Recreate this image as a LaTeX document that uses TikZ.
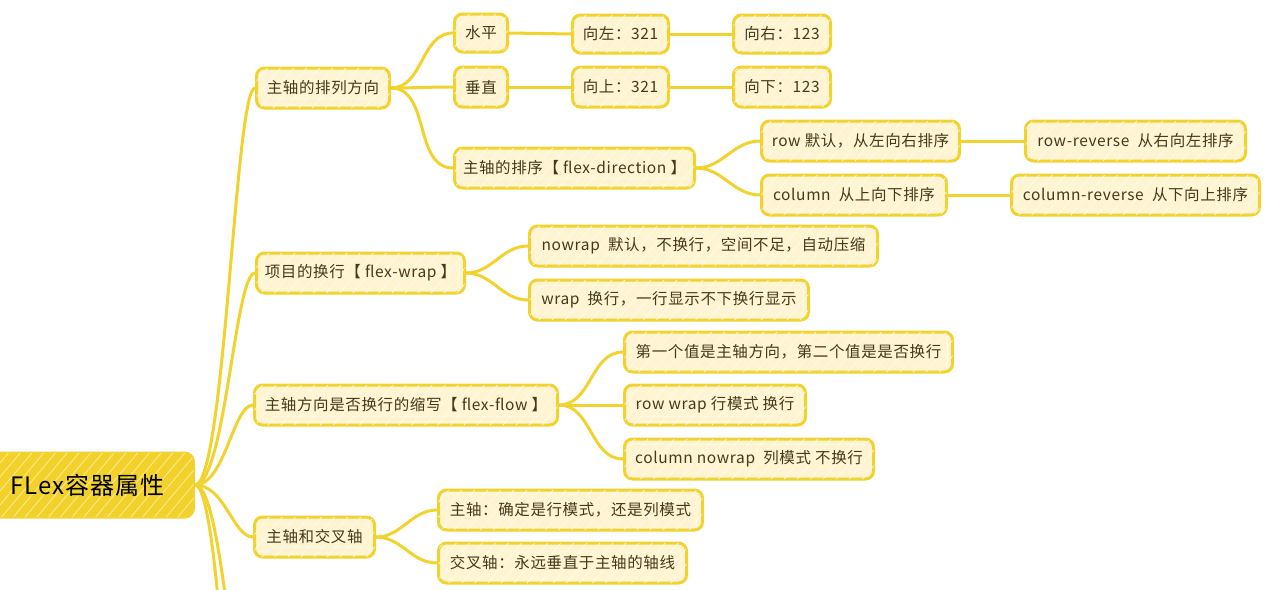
\documentclass[tikz,border=0pt]{standalone}
\usepackage{fontspec}
\setmainfont{Noto Sans CJK SC}[LetterSpace=4]
\usetikzlibrary{patterns.meta,backgrounds}
\definecolor{lineyellow}{HTML}{F2D22E}
\definecolor{creamfill}{HTML}{FFF5D2}
\definecolor{rootfill}{HTML}{F2D22A}
\definecolor{txt}{HTML}{45391A}
\tikzset{
  topic/.style={draw=lineyellow, line width=3pt, fill=creamfill, rounded corners=8pt,
    anchor=west, minimum height=40pt, inner xsep=6pt, inner ysep=0pt,
    text=txt, font=\fontsize{15.5}{17}\selectfont,
    postaction={pattern={Lines[angle=50,distance=10pt,line width=0.6pt]}, pattern color=white!70!creamfill}},
  roottopic/.style={draw=lineyellow, line width=3pt, fill=rootfill, rounded corners=9pt,
    anchor=west, minimum height=64pt, text width=190pt, align=left, inner xsep=6pt,
    text=black, font=\fontsize{24}{26}\selectfont,
    postaction={pattern={Lines[angle=50,distance=9pt,line width=0.8pt]}, pattern color=white!55!rootfill}},
  conn/.style={draw=lineyellow, line width=3pt, line cap=round},
}
\begin{document}
\begin{tikzpicture}[x=1pt,y=-1pt]
\clip (0,0) rectangle (1265,589);

% hidden coordinates below the frame
\coordinate (hidA) at (255,760);
\coordinate (hidB) at (255,980);

\node[roottopic] (root) at (-10,485) {\hspace*{13pt}FLex容器属性};

\node[topic, minimum width=133pt] (n1) at (255,88) {主轴的排列方向};
\node[topic, minimum width=53pt, minimum height=38pt] (n11) at (453,33) {水平};
\node[topic, minimum width=53pt] (n12) at (453,87) {垂直};
\node[topic, minimum width=240pt] (n13) at (453,168) {主轴的排序【 flex-direction 】};
\node[topic, minimum width=96pt, minimum height=38pt] (n111) at (571,34) {向左：321};
\node[topic, minimum width=97pt, minimum height=38pt] (n112) at (732,34) {向右：123};
\node[topic, minimum width=96pt] (n121) at (571,87) {向上：321};
\node[topic, minimum width=97pt] (n122) at (732,87) {向下：123};
\node[topic, minimum width=198pt] (n131) at (760,141) {row 默认，从左向右排序};
\node[topic, minimum width=220pt] (n1311) at (1024,141) {row-reverse~~从右向左排序};
\node[topic, minimum width=185pt] (n132) at (760,195) {column~~从上向下排序};
\node[topic, minimum width=248pt] (n1321) at (1010,195) {column-reverse~~从下向上排序};

\node[topic, minimum width=208pt] (n2) at (255,273) {项目的换行【 flex-wrap 】};
\node[topic, minimum width=348pt] (n21) at (528,246) {nowrap~~默认，不换行，空间不足，自动压缩};
\node[topic, minimum width=279pt] (n22) at (528,300) {wrap~~换行，一行显示不下换行显示};

\node[topic, minimum width=303pt] (n3) at (253,405) {主轴方向是否换行的缩写【 flex-flow 】};
\node[topic, minimum width=328pt] (n31) at (623,352) {第一个值是主轴方向，第二个值是是否换行};
\node[topic, minimum width=181pt] (n32) at (623,405) {row wrap 行模式 换行};
\node[topic, minimum width=249pt] (n33) at (623,459) {column nowrap~~列模式 不换行};

\node[topic, minimum width=120pt] (n4) at (253,537) {主轴和交叉轴};
\node[topic, minimum width=264pt] (n41) at (437,510) {主轴：确定是行模式，还是列模式};
\node[topic, minimum width=248pt] (n42) at (437,563) {交叉轴：永远垂直于主轴的轴线};

\begin{scope}[on background layer]
\draw[conn] (root.east) .. controls (225,485) and (235,88) .. (n1.west);
\draw[conn] (root.east) .. controls (225,485) and (235,273) .. (n2.west);
\draw[conn] (root.east) .. controls (225,485) and (233,405) .. (n3.west);
\draw[conn] (root.east) .. controls (225,485) and (233,537) .. (n4.west);
\draw[conn] (root.east) .. controls (225,485) and (235,760) .. (hidA);
\draw[conn] (root.east) .. controls (225,485) and (235,980) .. (hidB);

\draw[conn] (n1.east) to[out=0,in=180] (n11.west);
\draw[conn] (n1.east) to[out=0,in=180] (n12.west);
\draw[conn] (n1.east) to[out=0,in=180] (n13.west);
\draw[conn] (n11.east) -- (n111.west);
\draw[conn] (n111.east) -- (n112.west);
\draw[conn] (n12.east) -- (n121.west);
\draw[conn] (n121.east) -- (n122.west);
\draw[conn] (n13.east) to[out=0,in=180] (n131.west);
\draw[conn] (n13.east) to[out=0,in=180] (n132.west);
\draw[conn] (n131.east) -- (n1311.west);
\draw[conn] (n132.east) -- (n1321.west);

\draw[conn] (n2.east) to[out=0,in=180] (n21.west);
\draw[conn] (n2.east) to[out=0,in=180] (n22.west);

\draw[conn] (n3.east) to[out=0,in=180] (n31.west);
\draw[conn] (n3.east) -- (n32.west);
\draw[conn] (n3.east) to[out=0,in=180] (n33.west);

\draw[conn] (n4.east) to[out=0,in=180] (n41.west);
\draw[conn] (n4.east) to[out=0,in=180] (n42.west);
\end{scope}
\end{tikzpicture}
\end{document}
